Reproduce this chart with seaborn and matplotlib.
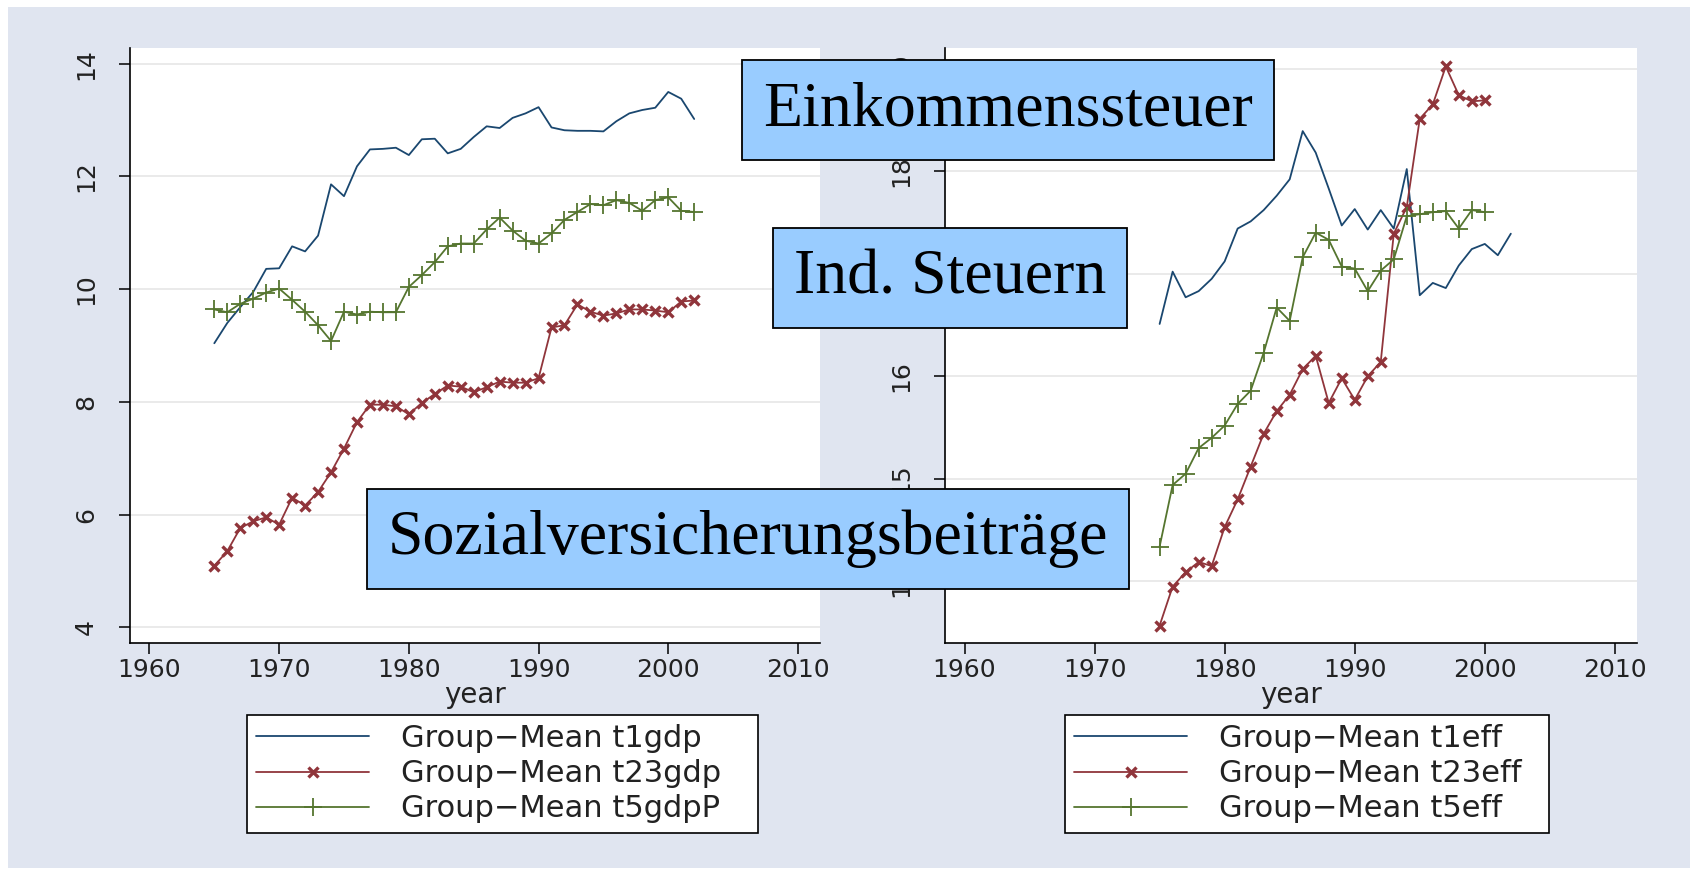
import matplotlib
matplotlib.use("Agg")
import matplotlib.pyplot as plt
from matplotlib.patches import Rectangle
import seaborn as sns

# data
years_gdp = list(range(1965, 2003))
t1gdp = [9.04, 9.40, 9.68, 9.95, 10.36, 10.37, 10.76, 10.67, 10.95, 11.86,
         11.65, 12.18, 12.48, 12.49, 12.51, 12.38, 12.66, 12.67, 12.41, 12.49,
         12.70, 12.89, 12.86, 13.04, 13.12, 13.23, 12.87, 12.82, 12.81, 12.81,
         12.80, 12.98, 13.12, 13.18, 13.22, 13.50, 13.38, 13.02]
t23gdp = [5.09, 5.35, 5.76, 5.88, 5.95, 5.82, 6.30, 6.16, 6.40, 6.75,
          7.17, 7.64, 7.95, 7.95, 7.92, 7.78, 7.98, 8.14, 8.29, 8.27,
          8.17, 8.26, 8.36, 8.34, 8.34, 8.42, 9.32, 9.36, 9.73, 9.60,
          9.53, 9.57, 9.64, 9.64, 9.62, 9.59, 9.78, 9.80]
t5gdpP = [9.64, 9.59, 9.74, 9.83, 9.94, 10.01, 9.81, 9.60, 9.36, 9.08,
          9.60, 9.55, 9.60, 9.59, 9.59, 10.04, 10.25, 10.48, 10.76, 10.81,
          10.81, 11.06, 11.27, 11.04, 10.86, 10.81, 10.99, 11.23, 11.37, 11.51,
          11.49, 11.58, 11.53, 11.39, 11.58, 11.63, 11.39, 11.37]

years_t1eff = list(range(1975, 2003))
years_eff = list(range(1975, 2001))
t1eff = [16.51, 17.02, 16.77, 16.83, 16.95, 17.12, 17.44, 17.51, 17.62, 17.76,
         17.92, 18.39, 18.18, 17.83, 17.47, 17.63, 17.43, 17.62, 17.44, 18.02,
         16.79, 16.91, 16.86, 17.08, 17.24, 17.29, 17.18, 17.39]
t23eff = [13.57, 13.95, 14.09, 14.19, 14.15, 14.53, 14.80, 15.12, 15.44, 15.66,
          15.82, 16.07, 16.20, 15.74, 15.98, 15.77, 16.00, 16.14, 17.39, 17.65,
          18.51, 18.65, 19.02, 18.74, 18.68, 18.69]
t5eff = [14.34, 14.94, 15.05, 15.30, 15.40, 15.52, 15.73, 15.86, 16.23, 16.67,
         16.54, 17.16, 17.40, 17.33, 17.07, 17.05, 16.83, 17.03, 17.14, 17.56,
         17.58, 17.60, 17.61, 17.44, 17.62, 17.60]

xticks = [1960, 1970, 1980, 1990, 2000, 2010]
left_yticks = [4, 6, 8, 10, 12, 14]
right_yticks = [14, 15, 16, 17, 18, 19]

left_labels = ["Group\u2212Mean t1gdp", "Group\u2212Mean t23gdp", "Group\u2212Mean t5gdpP"]
right_labels = ["Group\u2212Mean t1eff", "Group\u2212Mean t23eff", "Group\u2212Mean t5eff"]
box_texts = ["Einkommenssteuer", "Ind. Steuern", "Sozialversicherungsbeitr\u00e4ge"]

NAVY = "#1a476f"
MAROON = "#90353b"
GREEN = "#55752f"
BG = "#e0e5f0"
BOX = "#99ccff"

sns.set_style("ticks")
plt.rcParams["font.family"] = ["DejaVu Sans"]

W, H = 1698, 875
fig = plt.figure(figsize=(W / 100, H / 100), dpi=100, facecolor="white")
fig.patches.append(Rectangle((8 / W, 7 / H), (1690 - 8) / W, (868 - 7) / H,
                             transform=fig.transFigure, facecolor=BG,
                             edgecolor="none", zorder=-10))

ax_l = fig.add_axes([130 / W, (H - 643) / H, 690 / W, 595 / H])
ax_r = fig.add_axes([945 / W, (H - 643) / H, 692 / W, 595 / H])


def draw_panel(ax, series, labels, ylim, yticks):
    styles = [(NAVY, None, 0, 0), (MAROON, "x", 6.5, 2.4), (GREEN, "+", 13, 1.3)]
    for (yrs, vals), lab, (col, mk, ms, mew) in zip(series, labels, styles):
        sns.lineplot(x=yrs, y=vals, ax=ax, color=col, linewidth=1.3,
                     marker=mk, markersize=ms, markeredgewidth=mew,
                     markeredgecolor=col, label=lab)
    ax.set_facecolor("white")
    ax.set_xlim(1958.5, 2011.7)
    ax.set_ylim(*ylim)
    ax.set_xticks(xticks)
    ax.set_yticks(yticks)
    ax.yaxis.grid(True, color="#e8e8e8", linewidth=1.3)
    ax.set_axisbelow(True)
    for s in ["top", "right"]:
        ax.spines[s].set_visible(False)
    for s in ["left", "bottom"]:
        ax.spines[s].set_color("black")
        ax.spines[s].set_linewidth(1.2)
    ax.tick_params(axis="both", direction="out", length=8, width=1.1,
                   color="black", labelsize=18, labelcolor="#222222")
    ax.tick_params(axis="x", pad=3)
    ax.tick_params(axis="y", labelrotation=90, pad=15)
    plt.setp(ax.get_yticklabels(), va="center")
    ax.set_xlabel("year", fontsize=20, labelpad=-1, color="#222222")
    ax.set_ylabel("")


draw_panel(ax_l, [(years_gdp, t1gdp), (years_gdp, t23gdp), (years_gdp, t5gdpP)],
           left_labels, (3.72, 14.28), left_yticks)
draw_panel(ax_r, [(years_t1eff, t1eff), (years_eff, t23eff), (years_eff, t5eff)],
           right_labels, (13.40, 19.20), right_yticks)

# legends below each panel, stretched to the reference box width
for ax, (x0, x1) in [(ax_l, (247, 758)), (ax_r, (1065, 1549))]:
    handles, labs = ax.get_legend_handles_labels()
    leg = ax.legend(handles, labs, loc="upper left", mode="expand",
                    bbox_to_anchor=(x0 / W, 1 - 715 / H, (x1 - x0) / W, 0.0),
                    bbox_transform=fig.transFigure,
                    fontsize=22, handlelength=3.7, handletextpad=1.05,
                    labelspacing=0.2, borderpad=0.3, borderaxespad=0,
                    frameon=True, fancybox=False, framealpha=1,
                    edgecolor="black", facecolor="white", numpoints=1)
    leg.get_frame().set_linewidth(1.2)
    for t in leg.get_texts():
        t.set_color("#222222")

# labelled boxes over the panels
box_pos = [(1008 / W, 1 - 110 / H), (950 / W, 1 - 278 / H), (748 / W, 1 - 539 / H)]
for txt, (bx, by) in zip(box_texts, box_pos):
    fig.text(bx, by, txt, ha="center", va="center", fontsize=46,
             family="Liberation Serif", color="black", zorder=10,
             bbox=dict(boxstyle="square,pad=0.33", facecolor=BOX,
                       edgecolor="black", linewidth=1.3))

fig.savefig("out.png", dpi=100, facecolor=fig.get_facecolor())
